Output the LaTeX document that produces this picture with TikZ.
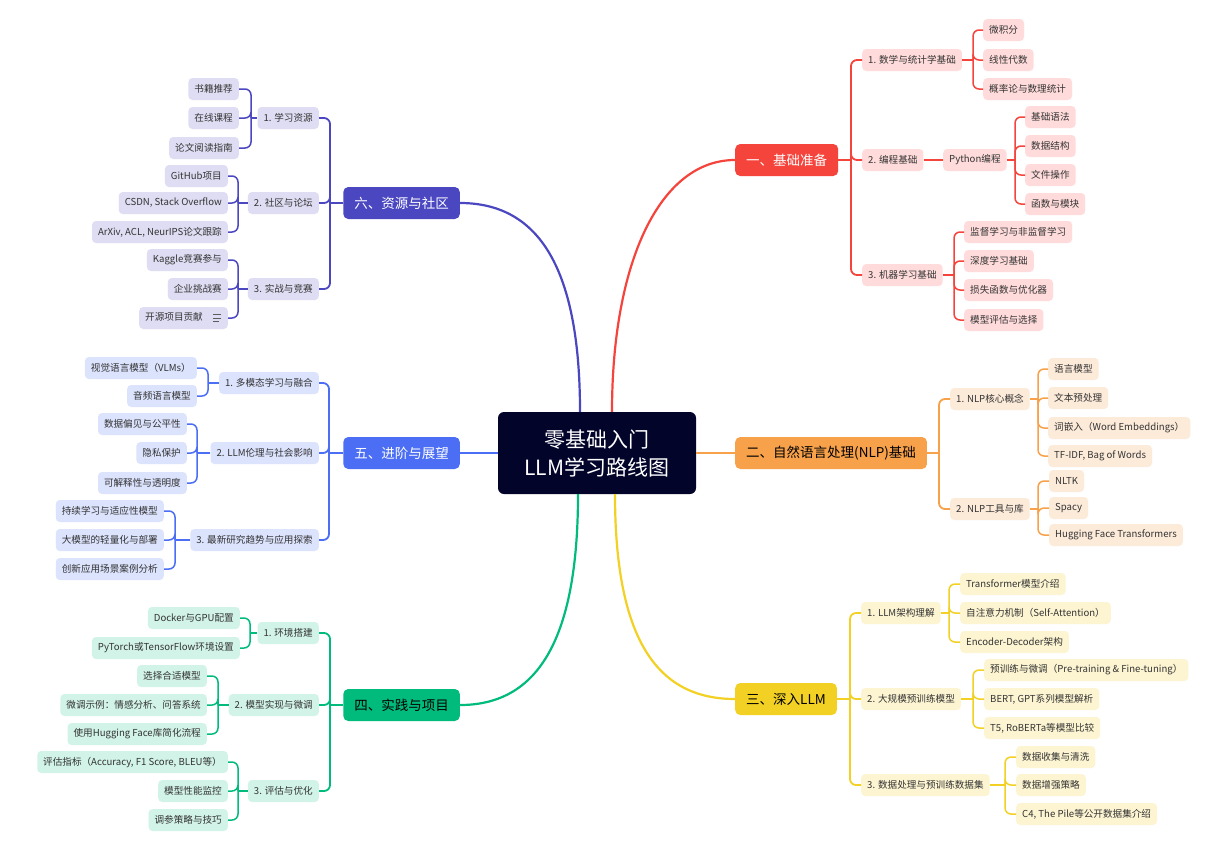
\documentclass[tikz,border=0pt]{standalone}
\usepackage{fontspec}
\setmainfont{Noto Sans CJK SC}
\usetikzlibrary{calc}
\definecolor{cen}{HTML}{02042A}
\definecolor{redM}{HTML}{F5443C}
\definecolor{redL}{HTML}{FFDCDB}
\definecolor{oraM}{HTML}{F7A14B}
\definecolor{oraL}{HTML}{FDEBDA}
\definecolor{yelM}{HTML}{F2D124}
\definecolor{yelL}{HTML}{FDF5D2}
\definecolor{greM}{HTML}{00BB7B}
\definecolor{greL}{HTML}{D2F3E7}
\definecolor{bluM}{HTML}{4B6EF5}
\definecolor{bluL}{HTML}{DCE3FD}
\definecolor{purM}{HTML}{4A47C1}
\definecolor{purL}{HTML}{DFDDF3}
\definecolor{txt}{HTML}{333333}
\begin{document}
\begin{tikzpicture}[x=1pt,y=-1pt,
  leaf/.style={rounded corners=4pt, inner xsep=6pt, inner ysep=0pt, minimum height=22pt,
    font=\fontsize{9.6}{11}\selectfont, text=txt},
  mainbox/.style={rounded corners=5pt, inner xsep=11pt, inner ysep=0pt, minimum height=32pt,
    font=\fontsize{13.5}{15}\selectfont},
  rl/.style={leaf, fill=redL}, ol/.style={leaf, fill=oraL}, yl/.style={leaf, fill=yelL},
  gl/.style={leaf, fill=greL}, bl/.style={leaf, fill=bluL}, pl/.style={leaf, fill=purL},
  c2/.style={line width=1.8pt, rounded corners=6pt},
  c3/.style={line width=1.5pt, rounded corners=6pt},
  trunk/.style={line width=2.2pt},
]
\useasboundingbox (0,0) rectangle (1222,863);
\fill[white] (0,0) rectangle (1222,863);

% center
\node[fill=cen, text=white, rounded corners=6pt, minimum width=198pt, minimum height=82pt,
  align=center, font=\fontsize{21}{28}\selectfont] (c) at (597,453) {零基础入门\\LLM学习路线图};

% main branches
\node[mainbox, fill=redM, text=white, anchor=west] (r) at (735,160) {一、基础准备};
\node[mainbox, fill=oraM, text=black, anchor=west] (o) at (735,453) {二、自然语言处理(NLP)基础};
\node[mainbox, fill=yelM, text=black, anchor=west] (y) at (735,699) {三、深入LLM};
\node[mainbox, fill=greM, text=black, anchor=east] (g) at (460,705) {四、实践与项目};
\node[mainbox, fill=bluM, text=white, anchor=east] (b) at (460,453) {五、进阶与展望};
\node[mainbox, fill=purM, text=white, anchor=east] (p) at (460,203) {六、资源与社区};

\draw[trunk, redM] ($(c.north)+(15,0)$) .. controls +(0,-150) and +(-75,0) .. (r.west);
\draw[trunk, purM] ($(c.north)+(-17,0)$) .. controls +(0,-150) and +(75,0) .. (p.east);
\draw[trunk, yelM] ($(c.south)+(18,0)$) .. controls +(0,150) and +(-75,0) .. (y.west);
\draw[trunk, greM] ($(c.south)+(-19,0)$) .. controls +(0,150) and +(75,0) .. (g.east);
\draw[trunk, oraM] (c.east) -- (o.west);
\draw[trunk, bluM] (c.west) -- (b.east);

% ---------------- red ----------------
\node[rl, anchor=west] (r1) at (862,60) {1. 数学与统计学基础};
\node[rl, anchor=west] (r2) at (862,160) {2. 编程基础};
\node[rl, anchor=west] (r3) at (862,275) {3. 机器学习基础};
\node[rl, anchor=west] (r2p) at (943,160) {Python编程};
\node[rl, anchor=west] (r1a) at (983,30) {微积分};
\node[rl, anchor=west] (r1b) at (983,60) {线性代数};
\node[rl, anchor=west] (r1c) at (983,89) {概率论与数理统计};
\node[rl, anchor=west] (r2a) at (1025,117) {基础语法};
\node[rl, anchor=west] (r2b) at (1025,146) {数据结构};
\node[rl, anchor=west] (r2c) at (1025,175) {文件操作};
\node[rl, anchor=west] (r2d) at (1025,204) {函数与模块};
\node[rl, anchor=west] (r3a) at (964,232) {监督学习与非监督学习};
\node[rl, anchor=west] (r3b) at (964,261) {深度学习基础};
\node[rl, anchor=west] (r3c) at (964,290) {损失函数与优化器};
\node[rl, anchor=west] (r3d) at (964,320) {模型评估与选择};
\coordinate (rB) at (851,160);
\coordinate (r1B) at (973,60);
\coordinate (r2B) at (1015,160);
\coordinate (r3B) at (954,275);
\draw[c2, redM] (r.east) -- (rB);
\foreach \k in {r1,r2,r3} \draw[c2, redM] (rB) |- (\k.west);
\draw[c3, redM] (r1.east) -- (r1B);
\foreach \k in {r1a,r1b,r1c} \draw[c3, redM] (r1B) |- (\k.west);
\draw[c3, redM] (r2.east) -- (r2p.west);
\draw[c3, redM] (r2p.east) -- (r2B);
\foreach \k in {r2a,r2b,r2c,r2d} \draw[c3, redM] (r2B) |- (\k.west);
\draw[c3, redM] (r3.east) -- (r3B);
\foreach \k in {r3a,r3b,r3c,r3d} \draw[c3, redM] (r3B) |- (\k.west);

% ---------------- orange ----------------
\node[ol, anchor=west] (o1) at (950,399) {1. NLP核心概念};
\node[ol, anchor=west] (o2) at (950,509) {2. NLP工具与库};
\node[ol, anchor=west] (o1a) at (1048,369) {语言模型};
\node[ol, anchor=west] (o1b) at (1048,398) {文本预处理};
\node[ol, anchor=west] (o1c) at (1048,428) {词嵌入（Word Embeddings）};
\node[ol, anchor=west] (o1d) at (1048,456) {TF-IDF, Bag of Words};
\node[ol, anchor=west] (o2a) at (1049,481) {NLTK};
\node[ol, anchor=west] (o2b) at (1049,508) {Spacy};
\node[ol, anchor=west] (o2c) at (1049,535) {Hugging Face Transformers};
\coordinate (oB) at (939,453);
\coordinate (o1B) at (1038,399);
\coordinate (o2B) at (1038,509);
\draw[c2, oraM] (o.east) -- (oB);
\foreach \k in {o1,o2} \draw[c2, oraM] (oB) |- (\k.west);
\draw[c3, oraM] (o1.east) -- (o1B);
\foreach \k in {o1a,o1b,o1c,o1d} \draw[c3, oraM] (o1B) |- (\k.west);
\draw[c3, oraM] (o2.east) -- (o2B);
\foreach \k in {o2a,o2b,o2c} \draw[c3, oraM] (o2B) |- (\k.west);

% ---------------- yellow ----------------
\node[yl, anchor=west] (y1) at (861,613) {1. LLM架构理解};
\node[yl, anchor=west] (y2) at (861,699) {2. 大规模预训练模型};
\node[yl, anchor=west] (y3) at (861,785) {3. 数据处理与预训练数据集};
\node[yl, anchor=west] (y1a) at (960,584) {Transformer模型介绍};
\node[yl, anchor=west] (y1b) at (960,613) {自注意力机制（Self-Attention）};
\node[yl, anchor=west] (y1c) at (960,642) {Encoder-Decoder架构};
\node[yl, anchor=west] (y2a) at (984,670) {预训练与微调（Pre-training \& Fine-tuning）};
\node[yl, anchor=west] (y2b) at (984,699) {BERT, GPT系列模型解析};
\node[yl, anchor=west] (y2c) at (984,728) {T5, RoBERTa等模型比较};
\node[yl, anchor=west] (y3a) at (1016,757) {数据收集与清洗};
\node[yl, anchor=west] (y3b) at (1016,785) {数据增强策略};
\node[yl, anchor=west] (y3c) at (1016,814) {C4, The Pile等公开数据集介绍};
\coordinate (yB) at (850,699);
\coordinate (y1B) at (949,613);
\coordinate (y2B) at (973,699);
\coordinate (y3B) at (1005,785);
\draw[c2, yelM] (y.east) -- (yB);
\foreach \k in {y1,y2,y3} \draw[c2, yelM] (yB) |- (\k.west);
\draw[c3, yelM] (y1.east) -- (y1B);
\foreach \k in {y1a,y1b,y1c} \draw[c3, yelM] (y1B) |- (\k.west);
\draw[c3, yelM] (y2.east) -- (y2B);
\foreach \k in {y2a,y2b,y2c} \draw[c3, yelM] (y2B) |- (\k.west);
\draw[c3, yelM] (y3.east) -- (y3B);
\foreach \k in {y3a,y3b,y3c} \draw[c3, yelM] (y3B) |- (\k.west);

% ---------------- purple ----------------
\node[pl, anchor=east] (p1) at (319,118) {1. 学习资源};
\node[pl, anchor=east] (p2) at (319,203) {2. 社区与论坛};
\node[pl, anchor=east] (p3) at (319,289) {3. 实战与竞赛};
\node[pl, anchor=east] (p1a) at (239,89) {书籍推荐};
\node[pl, anchor=east] (p1b) at (239,118) {在线课程};
\node[pl, anchor=east] (p1c) at (239,148) {论文阅读指南};
\node[pl, anchor=east] (p2a) at (228,176) {GitHub项目};
\node[pl, anchor=east] (p2b) at (228,203) {CSDN, Stack Overflow};
\node[pl, anchor=east] (p2c) at (228,232) {ArXiv, ACL, NeurIPS论文跟踪};
\node[pl, anchor=east] (p3a) at (228,260) {Kaggle竞赛参与};
\node[pl, anchor=east] (p3b) at (228,289) {企业挑战赛};
\node[pl, anchor=east] (p3c) at (228,318) {开源项目贡献\kern19pt\strut};
\draw[line width=0.8pt, txt!80] ($(p3c.east)+(-15,-3.5)$) -- +(8,0)
  ($(p3c.east)+(-15,0)$) -- +(8,0) ($(p3c.east)+(-15,3.5)$) -- +(6,0);
\coordinate (pB) at (330,203);
\coordinate (p1B) at (251,118);
\coordinate (p2B) at (238,203);
\coordinate (p3B) at (238,289);
\draw[c2, purM] (p.west) -- (pB);
\foreach \k in {p1,p2,p3} \draw[c2, purM] (pB) |- (\k.east);
\draw[c3, purM] (p1.west) -- (p1B);
\foreach \k in {p1a,p1b,p1c} \draw[c3, purM] (p1B) |- (\k.east);
\draw[c3, purM] (p2.west) -- (p2B);
\foreach \k in {p2a,p2b,p2c} \draw[c3, purM] (p2B) |- (\k.east);
\draw[c3, purM] (p3.west) -- (p3B);
\foreach \k in {p3a,p3b,p3c} \draw[c3, purM] (p3B) |- (\k.east);

% ---------------- blue ----------------
\node[bl, anchor=east] (b1) at (319,383) {1. 多模态学习与融合};
\node[bl, anchor=east] (b2) at (319,453) {2. LLM伦理与社会影响};
\node[bl, anchor=east] (b3) at (319,540) {3. 最新研究趋势与应用探索};
\node[bl, anchor=east] (b1a) at (197,368) {视觉语言模型（VLMs）};
\node[bl, anchor=east] (b1b) at (197,396) {音频语言模型};
\node[bl, anchor=east] (b2a) at (187,424) {数据偏见与公平性};
\node[bl, anchor=east] (b2b) at (187,453) {隐私保护};
\node[bl, anchor=east] (b2c) at (187,483) {可解释性与透明度};
\node[bl, anchor=east] (b3a) at (164,511) {持续学习与适应性模型};
\node[bl, anchor=east] (b3b) at (164,540) {大模型的轻量化与部署};
\node[bl, anchor=east] (b3c) at (164,569) {创新应用场景案例分析};
\coordinate (bB) at (329,453);
\coordinate (b1B) at (208,383);
\coordinate (b2B) at (197,453);
\coordinate (b3B) at (175,540);
\draw[c2, bluM] (b.west) -- (bB);
\foreach \k in {b1,b2,b3} \draw[c2, bluM] (bB) |- (\k.east);
\draw[c3, bluM] (b1.west) -- (b1B);
\foreach \k in {b1a,b1b} \draw[c3, bluM] (b1B) |- (\k.east);
\draw[c3, bluM] (b2.west) -- (b2B);
\foreach \k in {b2a,b2b,b2c} \draw[c3, bluM] (b2B) |- (\k.east);
\draw[c3, bluM] (b3.west) -- (b3B);
\foreach \k in {b3a,b3b,b3c} \draw[c3, bluM] (b3B) |- (\k.east);

% ---------------- green ----------------
\node[gl, anchor=east] (g1) at (319,633) {1. 环境搭建};
\node[gl, anchor=east] (g2) at (319,705) {2. 模型实现与微调};
\node[gl, anchor=east] (g3) at (319,791) {3. 评估与优化};
\node[gl, anchor=east] (g1a) at (240,618) {Docker与GPU配置};
\node[gl, anchor=east] (g1b) at (240,648) {PyTorch或TensorFlow环境设置};
\node[gl, anchor=east] (g2a) at (207,676) {选择合适模型};
\node[gl, anchor=east] (g2b) at (207,705) {微调示例：情感分析、问答系统};
\node[gl, anchor=east] (g2c) at (207,734) {使用Hugging Face库简化流程};
\node[gl, anchor=east] (g3a) at (228,762) {评估指标（Accuracy, F1 Score, BLEU等）};
\node[gl, anchor=east] (g3b) at (228,791) {模型性能监控};
\node[gl, anchor=east] (g3c) at (228,820) {调参策略与技巧};
\coordinate (gB) at (330,705);
\coordinate (g1B) at (250,633);
\coordinate (g2B) at (218,705);
\coordinate (g3B) at (238,791);
\draw[c2, greM] (g.west) -- (gB);
\foreach \k in {g1,g2,g3} \draw[c2, greM] (gB) |- (\k.east);
\draw[c3, greM] (g1.west) -- (g1B);
\foreach \k in {g1a,g1b} \draw[c3, greM] (g1B) |- (\k.east);
\draw[c3, greM] (g2.west) -- (g2B);
\foreach \k in {g2a,g2b,g2c} \draw[c3, greM] (g2B) |- (\k.east);
\draw[c3, greM] (g3.west) -- (g3B);
\foreach \k in {g3a,g3b,g3c} \draw[c3, greM] (g3B) |- (\k.east);
\end{tikzpicture}
\end{document}
